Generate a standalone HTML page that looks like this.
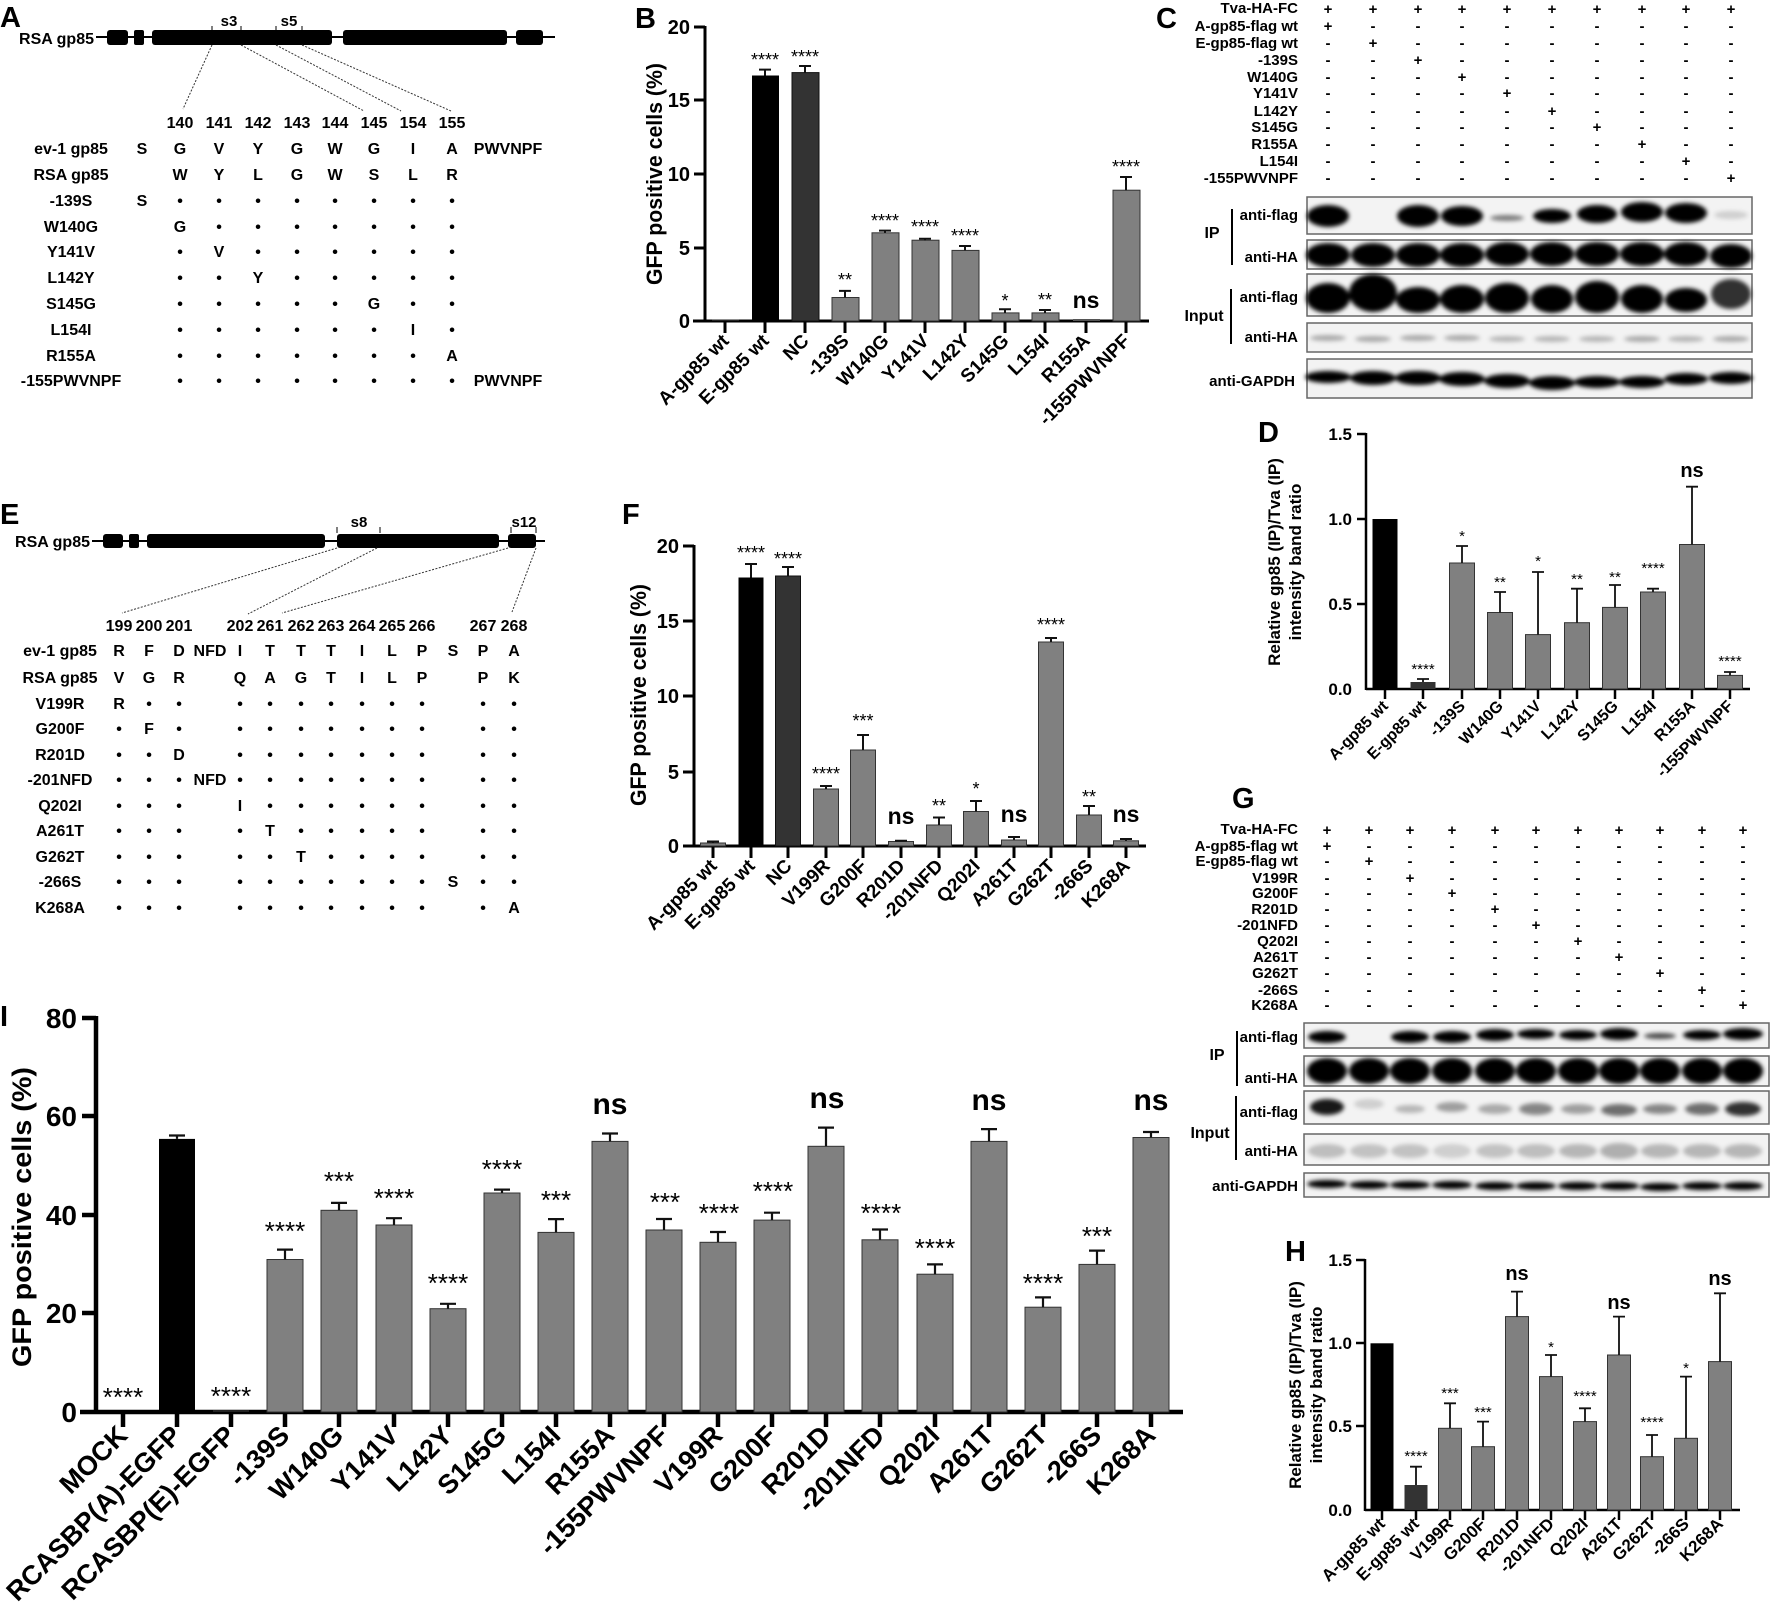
<!DOCTYPE html>
<html><head><meta charset="utf-8"><style>
html,body{margin:0;padding:0;background:#fff;}
svg{display:block;font-family:"Liberation Sans",Arial,sans-serif;font-weight:bold;}
.t16{font-size:16px;text-anchor:middle;}
.pm{font-size:15px;text-anchor:middle;}
.lab{font-size:15px;text-anchor:end;}
.L{font-size:29px;}
.g{fill:#808080;stroke:#333;stroke-width:1;}
.ax{stroke:#000;fill:none;}
.st{font-weight:normal;text-anchor:middle;}
</style></head><body>
<svg width="1772" height="1618" viewBox="0 0 1772 1618" xmlns="http://www.w3.org/2000/svg">
<defs><filter id="bl" x="-20%" y="-50%" width="140%" height="200%"><feGaussianBlur stdDeviation="2.2"/></filter></defs>
<rect width="1772" height="1618" fill="#fff"/>

<!-- ============ PANEL A ============ -->
<text x="0" y="27" class="L">A</text>
<text x="94" y="44" font-size="16" text-anchor="end">RSA gp85</text>
<line x1="96" y1="37" x2="555" y2="37" stroke="#000" stroke-width="2"/>
<g fill="#000"><rect x="107" y="30" width="21" height="15" rx="3"/><rect x="134" y="30" width="10" height="15" rx="2"/><rect x="152" y="30" width="180" height="15" rx="3"/><rect x="343" y="30" width="164" height="15" rx="3"/><rect x="516" y="30" width="27" height="15" rx="3"/></g>
<g stroke="#000" stroke-width="1"><line x1="212" y1="26" x2="212" y2="31"/><line x1="241" y1="26" x2="241" y2="31"/><line x1="276" y1="26" x2="276" y2="31"/><line x1="302" y1="26" x2="302" y2="31"/></g>
<text x="229" y="26" font-size="15" text-anchor="middle">s3</text>
<text x="289" y="26" font-size="15" text-anchor="middle">s5</text>
<g stroke="#333" stroke-width="1" stroke-dasharray="2,1.5"><line x1="212" y1="45" x2="183" y2="109"/><line x1="241" y1="45" x2="364" y2="111"/><line x1="276" y1="45" x2="401" y2="111"/><line x1="302" y1="45" x2="451" y2="111"/></g>
<g class="t16"><text x="180" y="128">140</text><text x="219" y="128">141</text><text x="258" y="128">142</text><text x="297" y="128">143</text><text x="335" y="128">144</text><text x="374" y="128">145</text><text x="413" y="128">154</text><text x="452" y="128">155</text></g>
<g class="t16">
<text x="71" y="154">ev-1 gp85</text><text x="71" y="180">RSA gp85</text><text x="71" y="206">-139S</text><text x="71" y="232">W140G</text><text x="71" y="257">Y141V</text><text x="71" y="283">L142Y</text><text x="71" y="309">S145G</text><text x="71" y="335">L154I</text><text x="71" y="361">R155A</text><text x="71" y="386">-155PWVNPF</text>
<text x="142 180 219 258 297 335 374 413 452" y="154">SGVYGWGIA</text><text x="508" y="154">PWVNPF</text>
<text x="180 219 258 297 335 374 413 452" y="180">WYLGWSLR</text>
<text x="142 180 219 258 297 335 374 413 452" y="206">S••••••••</text>
<text x="180 219 258 297 335 374 413 452" y="232">G•••••••</text>
<text x="180 219 258 297 335 374 413 452" y="257">•V••••••</text>
<text x="180 219 258 297 335 374 413 452" y="283">••Y•••••</text>
<text x="180 219 258 297 335 374 413 452" y="309">•••••G••</text>
<text x="180 219 258 297 335 374 413 452" y="335">••••••I•</text>
<text x="180 219 258 297 335 374 413 452" y="361">•••••••A</text>
<text x="180 219 258 297 335 374 413 452" y="386">••••••••</text><text x="508" y="386">PWVNPF</text>
</g>

<!-- ============ PANEL E ============ -->
<text x="0" y="524" class="L">E</text>
<text x="90" y="547" font-size="16" text-anchor="end">RSA gp85</text>
<line x1="92" y1="541" x2="545" y2="541" stroke="#000" stroke-width="2"/>
<g fill="#000"><rect x="103" y="534" width="20" height="14" rx="3"/><rect x="129" y="534" width="10" height="14" rx="2"/><rect x="147" y="534" width="178" height="14" rx="3"/><rect x="337" y="534" width="162" height="14" rx="3"/><rect x="508" y="534" width="28" height="14" rx="3"/></g>
<g stroke="#000" stroke-width="1"><line x1="337" y1="527" x2="337" y2="533"/><line x1="380" y1="527" x2="380" y2="533"/><line x1="511" y1="527" x2="511" y2="533"/><line x1="536" y1="527" x2="536" y2="533"/></g>
<text x="359" y="527" font-size="15" text-anchor="middle">s8</text>
<text x="524" y="527" font-size="15" text-anchor="middle">s12</text>
<g stroke="#333" stroke-width="1" stroke-dasharray="2,1.5"><line x1="337" y1="548" x2="122" y2="613"/><line x1="377" y1="548" x2="248" y2="614"/><line x1="508" y1="548" x2="282" y2="613"/><line x1="536" y1="548" x2="512" y2="612"/></g>
<g class="t16"><text x="119" y="631">199</text><text x="149" y="631">200</text><text x="179" y="631">201</text><text x="240" y="631">202</text><text x="270" y="631">261</text><text x="301" y="631">262</text><text x="331" y="631">263</text><text x="362" y="631">264</text><text x="392" y="631">265</text><text x="422" y="631">266</text><text x="483" y="631">267</text><text x="514" y="631">268</text></g>
<g class="t16">
<text x="60" y="656">ev-1 gp85</text><text x="60" y="683">RSA gp85</text><text x="60" y="709">V199R</text><text x="60" y="734">G200F</text><text x="60" y="760">R201D</text><text x="60" y="785">-201NFD</text><text x="60" y="811">Q202I</text><text x="60" y="836">A261T</text><text x="60" y="862">G262T</text><text x="60" y="887">-266S</text><text x="60" y="913">K268A</text>
<text x="119 149 179 240 270 301 331 362 392 422 483 514" y="656">RFDITTTILPPA</text><text x="210" y="656">NFD</text><text x="453" y="656">S</text>
<text x="119 149 179 240 270 301 331 362 392 422 483 514" y="683">VGRQAGTILPPK</text>
<text x="119 149 179 240 270 301 331 362 392 422 483 514" y="709">R•••••••••••</text>
<text x="119 149 179 240 270 301 331 362 392 422 483 514" y="734">•F••••••••••</text>
<text x="119 149 179 240 270 301 331 362 392 422 483 514" y="760">••D•••••••••</text>
<text x="119 149 179 240 270 301 331 362 392 422 483 514" y="785">••••••••••••</text><text x="210" y="785">NFD</text>
<text x="119 149 179 240 270 301 331 362 392 422 483 514" y="811">•••I••••••••</text>
<text x="119 149 179 240 270 301 331 362 392 422 483 514" y="836">••••T•••••••</text>
<text x="119 149 179 240 270 301 331 362 392 422 483 514" y="862">•••••T••••••</text>
<text x="119 149 179 240 270 301 331 362 392 422 483 514" y="887">••••••••••••</text><text x="453" y="887">S</text>
<text x="119 149 179 240 270 301 331 362 392 422 483 514" y="913">•••••••••••A</text>
</g>

<!-- ============ PANEL B ============ -->
<text x="635" y="28" class="L">B</text>
<g font-size="20" text-anchor="end"><text x="690" y="328">0</text><text x="690" y="255">5</text><text x="690" y="181">10</text><text x="690" y="107">15</text><text x="690" y="34">20</text></g>
<text transform="translate(662,174) rotate(-90)" font-size="22" text-anchor="middle" textLength="222" lengthAdjust="spacingAndGlyphs">GFP positive cells (%)</text>
<g stroke="#000" stroke-width="3"><line x1="705" y1="26" x2="705" y2="322"/><line x1="693" y1="321" x2="1149" y2="321"/>
<line x1="694" y1="27" x2="705" y2="27"/><line x1="694" y1="100" x2="705" y2="100"/><line x1="694" y1="174" x2="705" y2="174"/><line x1="694" y1="248" x2="705" y2="248"/>
<line x1="725" y1="321" x2="725" y2="333"/><line x1="765" y1="321" x2="765" y2="333"/><line x1="805" y1="321" x2="805" y2="333"/><line x1="845" y1="321" x2="845" y2="333"/><line x1="885" y1="321" x2="885" y2="333"/><line x1="925" y1="321" x2="925" y2="333"/><line x1="965" y1="321" x2="965" y2="333"/><line x1="1005" y1="321" x2="1005" y2="333"/><line x1="1045" y1="321" x2="1045" y2="333"/><line x1="1086" y1="321" x2="1086" y2="333"/><line x1="1126" y1="321" x2="1126" y2="333"/></g>
<rect x="712" y="319.5" width="27" height="1.5" fill="#222"/>
<rect x="752" y="75.5" width="27" height="245.5" fill="#000"/>
<rect x="792" y="72.6" width="27" height="248.4" fill="#333" stroke="#111"/>
<rect class="g" x="832" y="297.5" width="27" height="23.5"/>
<rect class="g" x="872" y="232.8" width="27" height="88.2"/>
<rect class="g" x="912" y="240.2" width="27" height="80.8"/>
<rect class="g" x="952" y="250.4" width="27" height="70.6"/>
<rect class="g" x="992" y="312.9" width="27" height="8.1"/>
<rect class="g" x="1032" y="312.9" width="27" height="8.1"/>
<rect x="1073" y="319" width="27" height="2" fill="#555"/>
<rect class="g" x="1113" y="190.2" width="27" height="130.8"/>
<g stroke="#111" stroke-width="2" fill="none"><path d="M765 75.5V69.6M759 69.6h12"/><path d="M805 72.6V66M799 66h12"/><path d="M845 297.5V290.9M839 290.9h12"/><path d="M885 232.8V230.6M879 230.6h12"/><path d="M925 240.2V238.7M919 238.7h12"/><path d="M965 250.4V246M959 246h12"/><path d="M1005 312.9V309.2M999 309.2h12"/><path d="M1045 312.9V310M1039 310h12"/><path d="M1126 190.2V177M1120 177h12"/></g>
<g class="st" font-size="18"><text x="765" y="66">****</text><text x="805" y="63">****</text><text x="845" y="286">**</text><text x="885" y="227">****</text><text x="925" y="233">****</text><text x="965" y="242">****</text><text x="1005" y="307">*</text><text x="1045" y="306">**</text><text x="1126" y="173">****</text></g>
<text x="1086" y="308" font-size="23" text-anchor="middle">ns</text>
<g font-size="19" text-anchor="end">
<text transform="translate(730,342) rotate(-45)">A-gp85 wt</text><text transform="translate(770,342) rotate(-45)">E-gp85 wt</text><text transform="translate(810,342) rotate(-45)">NC</text><text transform="translate(850,342) rotate(-45)">-139S</text><text transform="translate(890,342) rotate(-45)">W140G</text><text transform="translate(930,342) rotate(-45)">Y141V</text><text transform="translate(970,342) rotate(-45)">L142Y</text><text transform="translate(1010,342) rotate(-45)">S145G</text><text transform="translate(1050,342) rotate(-45)">L154I</text><text transform="translate(1091,342) rotate(-45)">R155A</text><text transform="translate(1131,342) rotate(-45)">-155PWVNPF</text></g>

<!-- ============ PANEL F ============ -->
<text x="622" y="524" class="L">F</text>
<g font-size="20" text-anchor="end"><text x="679" y="853">0</text><text x="679" y="779">5</text><text x="679" y="703">10</text><text x="679" y="628">15</text><text x="679" y="553">20</text></g>
<text transform="translate(646,695) rotate(-90)" font-size="22" text-anchor="middle" textLength="222" lengthAdjust="spacingAndGlyphs">GFP positive cells (%)</text>
<g stroke="#000" stroke-width="3"><line x1="694" y1="545" x2="694" y2="847"/><line x1="683" y1="846" x2="1146" y2="846"/>
<line x1="683" y1="546" x2="694" y2="546"/><line x1="683" y1="621" x2="694" y2="621"/><line x1="683" y1="696" x2="694" y2="696"/><line x1="683" y1="772" x2="694" y2="772"/>
<line x1="713" y1="846" x2="713" y2="858"/><line x1="751" y1="846" x2="751" y2="858"/><line x1="788" y1="846" x2="788" y2="858"/><line x1="826" y1="846" x2="826" y2="858"/><line x1="863" y1="846" x2="863" y2="858"/><line x1="901" y1="846" x2="901" y2="858"/><line x1="939" y1="846" x2="939" y2="858"/><line x1="976" y1="846" x2="976" y2="858"/><line x1="1014" y1="846" x2="1014" y2="858"/><line x1="1051" y1="846" x2="1051" y2="858"/><line x1="1089" y1="846" x2="1089" y2="858"/><line x1="1126" y1="846" x2="1126" y2="858"/></g>
<rect class="g" x="700.5" y="843" width="25" height="3"/>
<rect x="738.5" y="577.5" width="25" height="268.5" fill="#000"/>
<rect x="775.5" y="576" width="25" height="270" fill="#333" stroke="#111"/>
<rect class="g" x="813.5" y="789" width="25" height="57"/>
<rect class="g" x="850.5" y="750" width="25" height="96"/>
<rect class="g" x="888.5" y="841.5" width="25" height="4.5"/>
<rect class="g" x="926.5" y="825" width="25" height="21"/>
<rect class="g" x="963.5" y="811.5" width="25" height="34.5"/>
<rect class="g" x="1001.5" y="840" width="25" height="6"/>
<rect class="g" x="1038.5" y="642" width="25" height="204"/>
<rect class="g" x="1076.5" y="815" width="25" height="31"/>
<rect class="g" x="1113.5" y="840.8" width="25" height="5.2"/>
<g stroke="#111" stroke-width="2" fill="none"><path d="M713 843V841.5M707 841.5h12"/><path d="M751 577.5V564M745 564h12"/><path d="M788 576V567M782 567h12"/><path d="M826 789V786M820 786h12"/><path d="M863 750V735M857 735h12"/><path d="M901 841.5V840.8M895 840.8h12"/><path d="M939 825V817.5M933 817.5h12"/><path d="M976 811.5V801M970 801h12"/><path d="M1014 840V837M1008 837h12"/><path d="M1051 642V638M1045 638h12"/><path d="M1089 815V806M1083 806h12"/><path d="M1126 840.8V839M1120 839h12"/></g>
<g class="st" font-size="18"><text x="751" y="559">****</text><text x="788" y="565">****</text><text x="826" y="780">****</text><text x="863" y="727">***</text><text x="939" y="812">**</text><text x="976" y="795">*</text><text x="1051" y="631">****</text><text x="1089" y="803">**</text></g>
<g font-size="23" text-anchor="middle"><text x="901" y="824">ns</text><text x="1014" y="822">ns</text><text x="1126" y="822">ns</text></g>
<g font-size="19" text-anchor="end">
<text transform="translate(718,867) rotate(-45)">A-gp85 wt</text><text transform="translate(756,867) rotate(-45)">E-gp85 wt</text><text transform="translate(793,867) rotate(-45)">NC</text><text transform="translate(831,867) rotate(-45)">V199R</text><text transform="translate(868,867) rotate(-45)">G200F</text><text transform="translate(906,867) rotate(-45)">R201D</text><text transform="translate(944,867) rotate(-45)">-201NFD</text><text transform="translate(981,867) rotate(-45)">Q202I</text><text transform="translate(1019,867) rotate(-45)">A261T</text><text transform="translate(1056,867) rotate(-45)">G262T</text><text transform="translate(1094,867) rotate(-45)">-266S</text><text transform="translate(1131,867) rotate(-45)">K268A</text></g>

<!-- ============ PANEL C ============ -->
<text x="1156" y="28" class="L">C</text>
<g class="lab"><text x="1298" y="13">Tva-HA-FC</text><text x="1298" y="31">A-gp85-flag wt</text><text x="1298" y="48">E-gp85-flag wt</text><text x="1298" y="65">-139S</text><text x="1298" y="82">W140G</text><text x="1298" y="98">Y141V</text><text x="1298" y="116">L142Y</text><text x="1298" y="132">S145G</text><text x="1298" y="149">R155A</text><text x="1298" y="166">L154I</text><text x="1298" y="183">-155PWVNPF</text></g>
<g class="pm">
<text x="1328 1373 1418 1462 1507 1552 1597 1642 1686 1731" y="14">++++++++++</text>
<text x="1328 1373 1418 1462 1507 1552 1597 1642 1686 1731" y="31">+---------</text>
<text x="1328 1373 1418 1462 1507 1552 1597 1642 1686 1731" y="48">-+--------</text>
<text x="1328 1373 1418 1462 1507 1552 1597 1642 1686 1731" y="65">--+-------</text>
<text x="1328 1373 1418 1462 1507 1552 1597 1642 1686 1731" y="82">---+------</text>
<text x="1328 1373 1418 1462 1507 1552 1597 1642 1686 1731" y="98">----+-----</text>
<text x="1328 1373 1418 1462 1507 1552 1597 1642 1686 1731" y="116">-----+----</text>
<text x="1328 1373 1418 1462 1507 1552 1597 1642 1686 1731" y="132">------+---</text>
<text x="1328 1373 1418 1462 1507 1552 1597 1642 1686 1731" y="149">-------+--</text>
<text x="1328 1373 1418 1462 1507 1552 1597 1642 1686 1731" y="166">--------+-</text>
<text x="1328 1373 1418 1462 1507 1552 1597 1642 1686 1731" y="183">---------+</text></g>
<g fill="#f3f3f3" stroke="#666" stroke-width="1.5"><rect x="1307" y="197" width="445" height="37"/><rect x="1307" y="240" width="445" height="29"/><rect x="1307" y="274" width="445" height="42"/><rect x="1307" y="323" width="445" height="29"/><rect x="1307" y="359" width="445" height="39"/></g>
<g filter="url(#bl)" fill="#000">
<ellipse cx="1328" cy="216" rx="21" ry="11"/><ellipse cx="1418" cy="216" rx="21" ry="11"/><ellipse cx="1462" cy="216" rx="21" ry="10"/><ellipse cx="1507" cy="218" rx="17" ry="3" opacity=".5"/><ellipse cx="1552" cy="216" rx="19" ry="7"/><ellipse cx="1597" cy="214" rx="20" ry="9"/><ellipse cx="1642" cy="212" rx="21" ry="10"/><ellipse cx="1686" cy="213" rx="21" ry="10"/><ellipse cx="1731" cy="215" rx="17" ry="4" opacity=".15"/>
<ellipse cx="1328" cy="255" rx="22" ry="12"/><ellipse cx="1373" cy="255" rx="22" ry="12"/><ellipse cx="1418" cy="255" rx="22" ry="12"/><ellipse cx="1462" cy="255" rx="22" ry="12"/><ellipse cx="1507" cy="254" rx="22" ry="12"/><ellipse cx="1552" cy="254" rx="22" ry="12"/><ellipse cx="1597" cy="254" rx="22" ry="12"/><ellipse cx="1642" cy="254" rx="22" ry="12"/><ellipse cx="1686" cy="254" rx="22" ry="12"/><ellipse cx="1731" cy="256" rx="21" ry="12"/>
<ellipse cx="1328" cy="298" rx="22" ry="15"/><ellipse cx="1373" cy="293" rx="24" ry="19"/><ellipse cx="1418" cy="300" rx="22" ry="13"/><ellipse cx="1462" cy="299" rx="22" ry="14"/><ellipse cx="1507" cy="298" rx="22" ry="15"/><ellipse cx="1552" cy="299" rx="21" ry="14"/><ellipse cx="1597" cy="297" rx="22" ry="16"/><ellipse cx="1642" cy="299" rx="21" ry="14"/><ellipse cx="1686" cy="300" rx="21" ry="12"/><ellipse cx="1731" cy="294" rx="20" ry="15" opacity=".8"/>
<ellipse cx="1328" cy="338" rx="18" ry="3" opacity=".3"/><ellipse cx="1373" cy="339" rx="18" ry="3" opacity=".3"/><ellipse cx="1418" cy="338" rx="18" ry="3" opacity=".3"/><ellipse cx="1462" cy="338" rx="18" ry="3" opacity=".3"/><ellipse cx="1507" cy="339" rx="18" ry="3" opacity=".25"/><ellipse cx="1552" cy="339" rx="18" ry="3" opacity=".25"/><ellipse cx="1597" cy="339" rx="18" ry="3" opacity=".25"/><ellipse cx="1642" cy="339" rx="18" ry="3" opacity=".3"/><ellipse cx="1686" cy="339" rx="18" ry="3" opacity=".25"/><ellipse cx="1731" cy="339" rx="18" ry="3" opacity=".3"/>
<ellipse cx="1328" cy="377" rx="23" ry="6"/><ellipse cx="1373" cy="378" rx="23" ry="7"/><ellipse cx="1418" cy="378" rx="23" ry="7"/><ellipse cx="1462" cy="379" rx="23" ry="7"/><ellipse cx="1507" cy="381" rx="23" ry="7"/><ellipse cx="1552" cy="383" rx="23" ry="7"/><ellipse cx="1597" cy="382" rx="23" ry="6"/><ellipse cx="1642" cy="382" rx="23" ry="6"/><ellipse cx="1686" cy="379" rx="22" ry="6"/><ellipse cx="1731" cy="378" rx="22" ry="6"/>
</g>
<g class="lab"><text x="1298" y="220">anti-flag</text><text x="1298" y="262">anti-HA</text><text x="1298" y="302">anti-flag</text><text x="1298" y="342">anti-HA</text><text x="1295" y="386">anti-GAPDH</text></g>
<text x="1212" y="238" font-size="16" text-anchor="middle">IP</text><text x="1204" y="321" font-size="16" text-anchor="middle">Input</text>
<line x1="1232" y1="209" x2="1232" y2="265" stroke="#000" stroke-width="2"/><line x1="1231" y1="289" x2="1231" y2="344" stroke="#000" stroke-width="2"/>

<!-- ============ PANEL D ============ -->
<text x="1258" y="442" class="L">D</text>
<g font-size="17" text-anchor="end"><text x="1352" y="695">0.0</text><text x="1352" y="610">0.5</text><text x="1352" y="525">1.0</text><text x="1352" y="440">1.5</text></g>
<g font-size="17" text-anchor="middle"><text transform="translate(1280,562) rotate(-90)">Relative gp85 (IP)/Tva (IP)</text><text transform="translate(1301,562) rotate(-90)">intensity band ratio</text></g>
<g stroke="#000" stroke-width="2.5"><line x1="1366" y1="433" x2="1366" y2="690"/><line x1="1366" y1="689" x2="1750" y2="689"/>
<line x1="1357" y1="434" x2="1366" y2="434"/><line x1="1357" y1="519" x2="1366" y2="519"/><line x1="1357" y1="604" x2="1366" y2="604"/>
<line x1="1385" y1="689" x2="1385" y2="699"/><line x1="1423" y1="689" x2="1423" y2="699"/><line x1="1462" y1="689" x2="1462" y2="699"/><line x1="1500" y1="689" x2="1500" y2="699"/><line x1="1538" y1="689" x2="1538" y2="699"/><line x1="1577" y1="689" x2="1577" y2="699"/><line x1="1615" y1="689" x2="1615" y2="699"/><line x1="1653" y1="689" x2="1653" y2="699"/><line x1="1692" y1="689" x2="1692" y2="699"/><line x1="1730" y1="689" x2="1730" y2="699"/></g>
<rect x="1372.5" y="519" width="25" height="170" fill="#000"/>
<rect x="1410.5" y="682" width="25" height="7" fill="#333"/>
<rect class="g" x="1449.5" y="563" width="25" height="126"/>
<rect class="g" x="1487.5" y="612.5" width="25" height="76.5"/>
<rect class="g" x="1525.5" y="634.6" width="25" height="54.4"/>
<rect class="g" x="1564.5" y="622.7" width="25" height="66.3"/>
<rect class="g" x="1602.5" y="607.4" width="25" height="81.6"/>
<rect class="g" x="1640.5" y="592" width="25" height="97"/>
<rect class="g" x="1679.5" y="544.5" width="25" height="144.5"/>
<rect class="g" x="1717.5" y="675.4" width="25" height="13.6"/>
<g stroke="#111" stroke-width="1.8" fill="none"><path d="M1423 682V679M1417 679h12"/><path d="M1462 563V546M1456 546h12"/><path d="M1500 612.5V592M1494 592h12"/><path d="M1538 634.6V572M1532 572h12"/><path d="M1577 622.7V588.7M1571 588.7h12"/><path d="M1615 607.4V585M1609 585h12"/><path d="M1653 592V588.7M1647 588.7h12"/><path d="M1692 544.5V486.7M1686 486.7h12"/><path d="M1730 675.4V672M1724 672h12"/></g>
<g class="st" font-size="15"><text x="1423" y="674">****</text><text x="1462" y="541">*</text><text x="1500" y="587">**</text><text x="1538" y="566">*</text><text x="1577" y="584">**</text><text x="1615" y="582">**</text><text x="1653" y="573">****</text><text x="1730" y="666">****</text></g>
<text x="1692" y="477" font-size="20" text-anchor="middle">ns</text>
<g font-size="16" text-anchor="end">
<text transform="translate(1389,707) rotate(-45)">A-gp85 wt</text><text transform="translate(1427,707) rotate(-45)">E-gp85 wt</text><text transform="translate(1466,707) rotate(-45)">-139S</text><text transform="translate(1504,707) rotate(-45)">W140G</text><text transform="translate(1542,707) rotate(-45)">Y141V</text><text transform="translate(1581,707) rotate(-45)">L142Y</text><text transform="translate(1619,707) rotate(-45)">S145G</text><text transform="translate(1657,707) rotate(-45)">L154I</text><text transform="translate(1696,707) rotate(-45)">R155A</text><text transform="translate(1734,707) rotate(-45)">-155PWVNPF</text></g>

<!-- ============ PANEL G ============ -->
<text x="1232" y="808" class="L">G</text>
<g class="lab"><text x="1298" y="834">Tva-HA-FC</text><text x="1298" y="851">A-gp85-flag wt</text><text x="1298" y="866">E-gp85-flag wt</text><text x="1298" y="883">V199R</text><text x="1298" y="898">G200F</text><text x="1298" y="914">R201D</text><text x="1298" y="930">-201NFD</text><text x="1298" y="946">Q202I</text><text x="1298" y="962">A261T</text><text x="1298" y="978">G262T</text><text x="1298" y="995">-266S</text><text x="1298" y="1010">K268A</text></g>
<g class="pm">
<text x="1327 1369 1410 1452 1495 1536 1578 1619 1660 1702 1743" y="835">+++++++++++</text>
<text x="1327 1369 1410 1452 1495 1536 1578 1619 1660 1702 1743" y="851">+----------</text>
<text x="1327 1369 1410 1452 1495 1536 1578 1619 1660 1702 1743" y="866">-+---------</text>
<text x="1327 1369 1410 1452 1495 1536 1578 1619 1660 1702 1743" y="883">--+--------</text>
<text x="1327 1369 1410 1452 1495 1536 1578 1619 1660 1702 1743" y="898">---+-------</text>
<text x="1327 1369 1410 1452 1495 1536 1578 1619 1660 1702 1743" y="914">----+------</text>
<text x="1327 1369 1410 1452 1495 1536 1578 1619 1660 1702 1743" y="930">-----+-----</text>
<text x="1327 1369 1410 1452 1495 1536 1578 1619 1660 1702 1743" y="946">------+----</text>
<text x="1327 1369 1410 1452 1495 1536 1578 1619 1660 1702 1743" y="962">-------+---</text>
<text x="1327 1369 1410 1452 1495 1536 1578 1619 1660 1702 1743" y="978">--------+--</text>
<text x="1327 1369 1410 1452 1495 1536 1578 1619 1660 1702 1743" y="995">---------+-</text>
<text x="1327 1369 1410 1452 1495 1536 1578 1619 1660 1702 1743" y="1010">----------+</text></g>
<g fill="#f3f3f3" stroke="#666" stroke-width="1.5"><rect x="1304" y="1023" width="465" height="25"/><rect x="1304" y="1056" width="465" height="30"/><rect x="1304" y="1091" width="465" height="33"/><rect x="1304" y="1134" width="465" height="31"/><rect x="1304" y="1173" width="465" height="24"/></g>
<g filter="url(#bl)" fill="#000">
<ellipse cx="1327" cy="1037" rx="19" ry="6"/><ellipse cx="1410" cy="1037" rx="19" ry="6"/><ellipse cx="1452" cy="1037" rx="19" ry="6"/><ellipse cx="1495" cy="1035" rx="19" ry="6"/><ellipse cx="1536" cy="1034" rx="19" ry="5"/><ellipse cx="1578" cy="1035" rx="19" ry="5"/><ellipse cx="1619" cy="1034" rx="19" ry="6"/><ellipse cx="1660" cy="1036" rx="16" ry="3" opacity=".7"/><ellipse cx="1702" cy="1035" rx="19" ry="5"/><ellipse cx="1743" cy="1034" rx="20" ry="6"/>
<ellipse cx="1327" cy="1071" rx="20" ry="13"/><ellipse cx="1369" cy="1071" rx="20" ry="13"/><ellipse cx="1410" cy="1071" rx="20" ry="13"/><ellipse cx="1452" cy="1071" rx="20" ry="13"/><ellipse cx="1495" cy="1071" rx="20" ry="13"/><ellipse cx="1536" cy="1071" rx="20" ry="13"/><ellipse cx="1578" cy="1071" rx="20" ry="13"/><ellipse cx="1619" cy="1071" rx="20" ry="13"/><ellipse cx="1660" cy="1071" rx="20" ry="13"/><ellipse cx="1702" cy="1071" rx="20" ry="13"/><ellipse cx="1743" cy="1071" rx="20" ry="13"/>
<ellipse cx="1327" cy="1107" rx="17" ry="8" opacity=".9"/><ellipse cx="1369" cy="1104" rx="15" ry="5" opacity=".15"/><ellipse cx="1410" cy="1109" rx="15" ry="4" opacity=".25"/><ellipse cx="1452" cy="1107" rx="16" ry="5" opacity=".35"/><ellipse cx="1495" cy="1109" rx="17" ry="5" opacity=".3"/><ellipse cx="1536" cy="1109" rx="17" ry="6" opacity=".45"/><ellipse cx="1578" cy="1109" rx="17" ry="5" opacity=".35"/><ellipse cx="1619" cy="1110" rx="18" ry="6" opacity=".55"/><ellipse cx="1660" cy="1109" rx="17" ry="5" opacity=".45"/><ellipse cx="1702" cy="1109" rx="17" ry="6" opacity=".55"/><ellipse cx="1743" cy="1109" rx="18" ry="7" opacity=".8"/>
<ellipse cx="1327" cy="1151" rx="19" ry="7" opacity=".22"/><ellipse cx="1369" cy="1151" rx="19" ry="7" opacity=".2"/><ellipse cx="1410" cy="1151" rx="19" ry="7" opacity=".2"/><ellipse cx="1452" cy="1151" rx="19" ry="7" opacity=".15"/><ellipse cx="1495" cy="1151" rx="19" ry="7" opacity=".2"/><ellipse cx="1536" cy="1151" rx="19" ry="7" opacity=".22"/><ellipse cx="1578" cy="1151" rx="19" ry="7" opacity=".25"/><ellipse cx="1619" cy="1151" rx="19" ry="8" opacity=".28"/><ellipse cx="1660" cy="1151" rx="19" ry="7" opacity=".25"/><ellipse cx="1702" cy="1151" rx="19" ry="7" opacity=".25"/><ellipse cx="1743" cy="1151" rx="19" ry="7" opacity=".25"/>
<ellipse cx="1327" cy="1184" rx="20" ry="4"/><ellipse cx="1369" cy="1185" rx="20" ry="4"/><ellipse cx="1410" cy="1185" rx="20" ry="4"/><ellipse cx="1452" cy="1185" rx="20" ry="4"/><ellipse cx="1495" cy="1186" rx="20" ry="4"/><ellipse cx="1536" cy="1186" rx="20" ry="4"/><ellipse cx="1578" cy="1186" rx="20" ry="4"/><ellipse cx="1619" cy="1186" rx="20" ry="4"/><ellipse cx="1660" cy="1187" rx="20" ry="4"/><ellipse cx="1702" cy="1186" rx="20" ry="4"/><ellipse cx="1743" cy="1186" rx="20" ry="4"/>
</g>
<g class="lab"><text x="1298" y="1042">anti-flag</text><text x="1298" y="1083">anti-HA</text><text x="1298" y="1117">anti-flag</text><text x="1298" y="1156">anti-HA</text><text x="1298" y="1191">anti-GAPDH</text></g>
<text x="1217" y="1060" font-size="16" text-anchor="middle">IP</text><text x="1210" y="1138" font-size="16" text-anchor="middle">Input</text>
<line x1="1237" y1="1031" x2="1237" y2="1086" stroke="#000" stroke-width="2"/><line x1="1236" y1="1096" x2="1236" y2="1160" stroke="#000" stroke-width="2"/>

<!-- ============ PANEL H ============ -->
<text x="1285" y="1261" class="L">H</text>
<g font-size="17" text-anchor="end"><text x="1352" y="1516">0.0</text><text x="1352" y="1432">0.5</text><text x="1352" y="1349">1.0</text><text x="1352" y="1266">1.5</text></g>
<g font-size="17" text-anchor="middle"><text transform="translate(1301,1385) rotate(-90)">Relative gp85 (IP)/Tva (IP)</text><text transform="translate(1322,1385) rotate(-90)">intensity band ratio</text></g>
<g stroke="#000" stroke-width="2.5"><line x1="1365" y1="1259" x2="1365" y2="1511"/><line x1="1365" y1="1510" x2="1740" y2="1510"/>
<line x1="1356" y1="1260" x2="1365" y2="1260"/><line x1="1356" y1="1343" x2="1365" y2="1343"/><line x1="1356" y1="1426" x2="1365" y2="1426"/>
<line x1="1382" y1="1510" x2="1382" y2="1520"/><line x1="1416" y1="1510" x2="1416" y2="1520"/><line x1="1450" y1="1510" x2="1450" y2="1520"/><line x1="1483" y1="1510" x2="1483" y2="1520"/><line x1="1517" y1="1510" x2="1517" y2="1520"/><line x1="1551" y1="1510" x2="1551" y2="1520"/><line x1="1585" y1="1510" x2="1585" y2="1520"/><line x1="1619" y1="1510" x2="1619" y2="1520"/><line x1="1652" y1="1510" x2="1652" y2="1520"/><line x1="1686" y1="1510" x2="1686" y2="1520"/><line x1="1720" y1="1510" x2="1720" y2="1520"/></g>
<rect x="1370.5" y="1343.3" width="23" height="166.7" fill="#000"/>
<rect x="1404.5" y="1485" width="23" height="25" fill="#333"/>
<rect class="g" x="1438.5" y="1428.3" width="23" height="81.7"/>
<rect class="g" x="1471.5" y="1446.7" width="23" height="63.3"/>
<rect class="g" x="1505.5" y="1316.6" width="23" height="193.4"/>
<rect class="g" x="1539.5" y="1376.6" width="23" height="133.4"/>
<rect class="g" x="1573.5" y="1421.6" width="23" height="88.4"/>
<rect class="g" x="1607.5" y="1355" width="23" height="155"/>
<rect class="g" x="1640.5" y="1456.7" width="23" height="53.3"/>
<rect class="g" x="1674.5" y="1438.3" width="23" height="71.7"/>
<rect class="g" x="1708.5" y="1361.6" width="23" height="148.4"/>
<g stroke="#111" stroke-width="1.8" fill="none"><path d="M1416 1485V1466.7M1410 1466.7h12"/><path d="M1450 1428.3V1403.3M1444 1403.3h12"/><path d="M1483 1446.7V1421.6M1477 1421.6h12"/><path d="M1517 1316.6V1291.6M1511 1291.6h12"/><path d="M1551 1376.6V1355M1545 1355h12"/><path d="M1585 1421.6V1408.3M1579 1408.3h12"/><path d="M1619 1355V1316.6M1613 1316.6h12"/><path d="M1652 1456.7V1435M1646 1435h12"/><path d="M1686 1438.3V1376.6M1680 1376.6h12"/><path d="M1720 1361.6V1293.3M1714 1293.3h12"/></g>
<g class="st" font-size="15"><text x="1416" y="1461">****</text><text x="1450" y="1398">***</text><text x="1483" y="1417">***</text><text x="1551" y="1352">*</text><text x="1585" y="1401">****</text><text x="1652" y="1427">****</text><text x="1686" y="1373">*</text></g>
<g font-size="20" text-anchor="middle"><text x="1517" y="1280">ns</text><text x="1619" y="1309">ns</text><text x="1720" y="1285">ns</text></g>
<g font-size="17" text-anchor="end">
<text transform="translate(1386,1525) rotate(-45)">A-gp85 wt</text><text transform="translate(1420,1525) rotate(-45)">E-gp85 wt</text><text transform="translate(1454,1525) rotate(-45)">V199R</text><text transform="translate(1487,1525) rotate(-45)">G200F</text><text transform="translate(1521,1525) rotate(-45)">R201D</text><text transform="translate(1555,1525) rotate(-45)">-201NFD</text><text transform="translate(1589,1525) rotate(-45)">Q202I</text><text transform="translate(1623,1525) rotate(-45)">A261T</text><text transform="translate(1656,1525) rotate(-45)">G262T</text><text transform="translate(1690,1525) rotate(-45)">-266S</text><text transform="translate(1724,1525) rotate(-45)">K268A</text></g>

<!-- ============ PANEL I ============ -->
<text x="0" y="1026" class="L">I</text>
<g font-size="28" text-anchor="end"><text x="77" y="1422">0</text><text x="77" y="1323">20</text><text x="77" y="1225">40</text><text x="77" y="1126">60</text><text x="77" y="1028">80</text></g>
<text transform="translate(31,1217) rotate(-90)" font-size="27" text-anchor="middle" textLength="300" lengthAdjust="spacingAndGlyphs">GFP positive cells (%)</text>
<g stroke="#000" stroke-width="4.5"><line x1="96" y1="1016" x2="96" y2="1414"/><line x1="80" y1="1412" x2="1183" y2="1412"/>
<line x1="82" y1="1018" x2="96" y2="1018"/><line x1="82" y1="1116" x2="96" y2="1116"/><line x1="82" y1="1215" x2="96" y2="1215"/><line x1="82" y1="1313" x2="96" y2="1313"/>
<path d="M123 1412v15M177 1412v15M231 1412v15M285 1412v15M339 1412v15M394 1412v15M448 1412v15M502 1412v15M556 1412v15M610 1412v15M664 1412v15M718 1412v15M772 1412v15M826 1412v15M880 1412v15M935 1412v15M989 1412v15M1043 1412v15M1097 1412v15M1151 1412v15"/></g>
<rect x="159" y="1138.9" width="36" height="273.1" fill="#000"/>
<rect x="213" y="1410" width="36" height="2" fill="#222"/>
<rect class="g" x="267" y="1259.5" width="36" height="152.5"/>
<rect class="g" x="321" y="1210.3" width="36" height="201.7"/>
<rect class="g" x="376" y="1225" width="36" height="187"/>
<rect class="g" x="430" y="1308.7" width="36" height="103.3"/>
<rect class="g" x="484" y="1193" width="36" height="219"/>
<rect class="g" x="538" y="1232.4" width="36" height="179.6"/>
<rect class="g" x="592" y="1141.4" width="36" height="270.6"/>
<rect class="g" x="646" y="1230" width="36" height="182"/>
<rect class="g" x="700" y="1242.3" width="36" height="169.7"/>
<rect class="g" x="754" y="1220.1" width="36" height="191.9"/>
<rect class="g" x="808" y="1146.3" width="36" height="265.7"/>
<rect class="g" x="862" y="1239.8" width="36" height="172.2"/>
<rect class="g" x="917" y="1274.2" width="36" height="137.8"/>
<rect class="g" x="971" y="1141.4" width="36" height="270.6"/>
<rect class="g" x="1025" y="1307.2" width="36" height="104.8"/>
<rect class="g" x="1079" y="1264.4" width="36" height="147.6"/>
<rect class="g" x="1133" y="1137.5" width="36" height="274.5"/>
<g stroke="#111" stroke-width="2.2" fill="none"><path d="M177 1138.9V1135.5M169 1135.5h16"/><path d="M285 1259.5V1249.6M277 1249.6h16"/><path d="M339 1210.3V1202.9M331 1202.9h16"/><path d="M394 1225V1218.2M386 1218.2h16"/><path d="M448 1308.7V1303.8M440 1303.8h16"/><path d="M502 1193V1189.6M494 1189.6h16"/><path d="M556 1232.4V1219.1M548 1219.1h16"/><path d="M610 1141.4V1133.5M602 1133.5h16"/><path d="M664 1230V1219M656 1219h16"/><path d="M718 1242.3V1232M710 1232h16"/><path d="M772 1220.1V1212.7M764 1212.7h16"/><path d="M826 1146.3V1127.6M818 1127.6h16"/><path d="M880 1239.8V1229.5M872 1229.5h16"/><path d="M935 1274.2V1264.4M927 1264.4h16"/><path d="M989 1141.4V1129.1M981 1129.1h16"/><path d="M1043 1307.2V1297.4M1035 1297.4h16"/><path d="M1097 1264.4V1250.6M1089 1250.6h16"/><path d="M1151 1137.5V1132M1143 1132h16"/></g>
<g class="st" font-size="26"><text x="123" y="1406">****</text><text x="231" y="1405">****</text><text x="285" y="1240">****</text><text x="339" y="1190">***</text><text x="394" y="1207">****</text><text x="448" y="1292">****</text><text x="502" y="1178">****</text><text x="556" y="1209">***</text><text x="665" y="1211">***</text><text x="719" y="1222">****</text><text x="773" y="1200">****</text><text x="881" y="1222">****</text><text x="935" y="1257">****</text><text x="1043" y="1292">****</text><text x="1097" y="1245">***</text></g>
<g font-size="30" text-anchor="middle"><text x="610" y="1114">ns</text><text x="827" y="1108">ns</text><text x="989" y="1110">ns</text><text x="1151" y="1110">ns</text></g>
<g font-size="27" text-anchor="end">
<text transform="translate(129,1437) rotate(-45)">MOCK</text><text transform="translate(183,1437) rotate(-45)">RCASBP(A)-EGFP</text><text transform="translate(237,1437) rotate(-45)">RCASBP(E)-EGFP</text><text transform="translate(291,1437) rotate(-45)">-139S</text><text transform="translate(345,1437) rotate(-45)">W140G</text><text transform="translate(400,1437) rotate(-45)">Y141V</text><text transform="translate(454,1437) rotate(-45)">L142Y</text><text transform="translate(508,1437) rotate(-45)">S145G</text><text transform="translate(562,1437) rotate(-45)">L154I</text><text transform="translate(616,1437) rotate(-45)">R155A</text><text transform="translate(670,1437) rotate(-45)">-155PWVNPF</text><text transform="translate(724,1437) rotate(-45)">V199R</text><text transform="translate(778,1437) rotate(-45)">G200F</text><text transform="translate(832,1437) rotate(-45)">R201D</text><text transform="translate(886,1437) rotate(-45)">-201NFD</text><text transform="translate(941,1437) rotate(-45)">Q202I</text><text transform="translate(995,1437) rotate(-45)">A261T</text><text transform="translate(1049,1437) rotate(-45)">G262T</text><text transform="translate(1103,1437) rotate(-45)">-266S</text><text transform="translate(1157,1437) rotate(-45)">K268A</text></g>
</svg>
</body></html>
